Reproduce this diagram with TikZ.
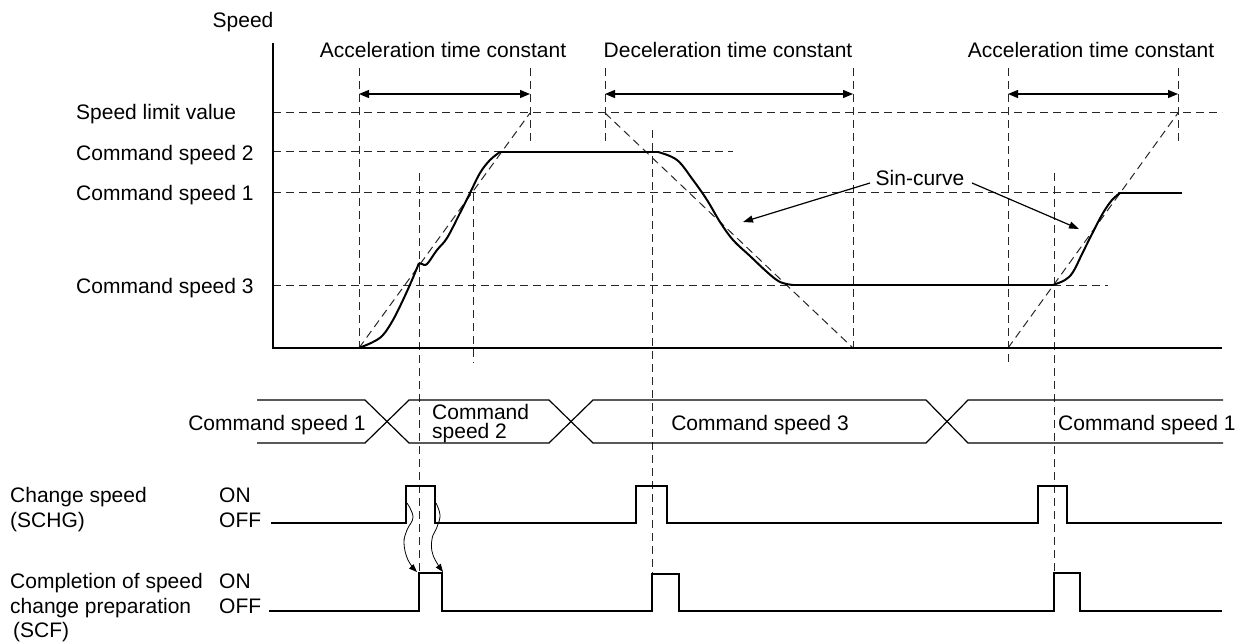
\documentclass[tikz,border=0pt]{standalone}
\usepackage{fontspec}
\setmainfont{Liberation Sans}
\usetikzlibrary{arrows.meta}
\begin{document}
\begin{tikzpicture}[x=1pt,y=-1pt,
  lbl/.style={inner sep=0pt, font=\fontsize{21}{24}\selectfont},
  tight/.style={inner sep=0pt, align=left, font={\fontsize{21}{19}\selectfont\lineskiplimit=-20pt}},
  guide/.style={dash pattern=on 8pt off 5pt, line width=1pt, black!85},
  axisline/.style={line width=2pt},
  curve/.style={line width=2pt, line join=round},
  sig/.style={line width=1.6pt},
  bus/.style={line width=1.2pt},
  dimarrow/.style={line width=1.2pt, {Triangle[length=10pt,width=8pt]}-{Triangle[length=10pt,width=8pt]}},
  ptr/.style={line width=1.2pt, -{Triangle[length=10pt,width=7pt]}},
  wavy/.style={line width=0.8pt, -{Triangle[length=8pt,width=6pt]}},
]
\useasboundingbox (0,0) rectangle (1246,644);

% ---------- texts ----------
\node[lbl, anchor=base] (tspeed) at (243,28) {Speed};
\node[lbl, anchor=base] (tacc1) at (443,58) {Acceleration time constant};
\node[lbl, anchor=base] (tdec) at (728,58) {Deceleration time constant};
\node[lbl, anchor=base] (tacc2) at (1091,58) {Acceleration time constant};
\node[lbl, anchor=base west] (tlim) at (76,120) {Speed limit value};
\node[lbl, anchor=base west] (tc2) at (76,161) {Command speed 2};
\node[lbl, anchor=base west] (tc1) at (76,201) {Command speed 1};
\node[lbl, anchor=base west] (tc3) at (76,293) {Command speed 3};
\node[lbl, anchor=base] (tsin) at (920,186) {Sin-curve};

\node[lbl, anchor=base] (b1) at (277,430) {Command speed 1};
\node[tight, anchor=west] (b2) at (432,424) {Command\\speed 2};
\node[lbl, anchor=base] (b3) at (760,430) {Command speed 3};
\node[lbl, anchor=base west] (b4) at (1058,430) {Command speed 1};

\node[lbl, anchor=base west] (l1) at (10,502) {Change speed};
\node[lbl, anchor=base west] (l2) at (10,527) {(SCHG)};
\node[lbl, anchor=base west] (l3) at (10,588) {Completion of speed};
\node[lbl, anchor=base west] (l4) at (10,613) {change preparation};
\node[lbl, anchor=base west] (l5) at (13,637) {(SCF)};
\node[lbl, anchor=base west] (on1) at (219,502) {ON};
\node[lbl, anchor=base west] (off1) at (219,527) {OFF};
\node[lbl, anchor=base west] (on2) at (219,588) {ON};
\node[lbl, anchor=base west] (off2) at (219,613) {OFF};

% ---------- guide lines ----------
\draw[guide] (273,113) -- (1222,113);
\draw[guide] (273,152) -- (733,152);
\draw[guide] (273,193) -- (1120,193);
\draw[guide] (273,285) -- (1108,285);

\draw[guide] (359,68) -- (359,348);
\draw[guide] (530,68) -- (530,145);
\draw[guide] (605,68) -- (605,145);
\draw[guide] (853,68) -- (853,348);
\draw[guide] (1008,68) -- (1008,363);
\draw[guide] (1178,68) -- (1178,143);
\draw[guide] (419,173) -- (419,573);
\draw[guide] (473,193) -- (473,363);
\draw[guide] (652,130) -- (652,574);
\draw[guide] (1054,173) -- (1054,573);

\draw[guide] (359,348) -- (530,113);
\draw[guide] (605,113) -- (853,348);
\draw[guide] (1008,348) -- (1178,113);

% ---------- axes ----------
\coordinate (ytop) at (273,43);
\coordinate (orig) at (273,348);
\coordinate (xend) at (1222,348);
\draw[axisline] (ytop) -- (orig) -- (xend);

% ---------- speed curve ----------
\draw[curve] (273,348) -- (359,348);
\draw[curve] plot[smooth, tension=0.6] coordinates {(359,348) (373,342) (383,335) (393,320) (403,300) (412,280) (419,263)};
\draw[curve] plot[smooth, tension=0.6] coordinates {(419,263) (422,264) (427,264) (437,250) (447,238) (460,213) (470,193) (480,173) (490,160) (500,152)};
\draw[curve] (500,152) -- (658,152);
\draw[curve] plot[smooth, tension=0.6] coordinates {(658,152) (677,160) (693,180) (707,200) (720,222) (733,240) (750,256) (767,272) (780,282) (793,285)};
\draw[curve] (793,285) -- (1053,285);
\draw[curve] plot[smooth, tension=0.6] coordinates {(1053,285) (1065,280) (1073,272) (1083,252) (1093,232) (1103,213) (1112,200) (1120,193)};
\draw[curve] (1120,193) -- (1182,193);

% ---------- dimension arrows ----------
\coordinate (a1l) at (359,94); \coordinate (a1r) at (530,94);
\coordinate (a2l) at (605,94); \coordinate (a2r) at (853,94);
\coordinate (a3l) at (1008,94); \coordinate (a3r) at (1178,94);
\draw[dimarrow] (a1l) -- (a1r);
\draw[dimarrow] (a2l) -- (a2r);
\draw[dimarrow] (a3l) -- (a3r);

% ---------- sin-curve pointers ----------
\coordinate (s1) at (870,183); \coordinate (s1t) at (743,222);
\coordinate (s2) at (972,183); \coordinate (s2t) at (1079,229);
\draw[ptr] (s1) -- (s1t);
\draw[ptr] (s2) -- (s2t);

% ---------- command speed bus ----------
\draw[bus] (257,400) -- (365,400) -- (409,443) -- (549,443) -- (593,400) -- (926,400) -- (968,443) -- (1223,443);
\draw[bus] (257,443) -- (365,443) -- (409,400) -- (549,400) -- (593,443) -- (926,443) -- (968,400) -- (1223,400);

% ---------- SCHG ----------
\draw[sig] (271,523) -- (406,523) -- (406,486) -- (435,486) -- (435,523) -- (636,523) -- (636,486) -- (667,486) -- (667,523) -- (1038,523) -- (1038,486) -- (1067,486) -- (1067,523) -- (1222,523);

% ---------- SCF ----------
\draw[sig] (269,611) -- (419,611) -- (419,573) -- (442,573) -- (442,611) -- (652,611) -- (652,574) -- (679,574) -- (679,611) -- (1054,611) -- (1054,573) -- (1080,573) -- (1080,611) -- (1222,611);

% ---------- causal arrows ----------
\draw[wavy] plot[smooth, tension=0.7] coordinates {(407,503) (413,517) (407,530) (404,543) (408,560) (417,572)};
\draw[wavy] plot[smooth, tension=0.7] coordinates {(436,503) (440,515) (437,527) (432,539) (433,555) (443,572)};
\end{tikzpicture}
\end{document}
